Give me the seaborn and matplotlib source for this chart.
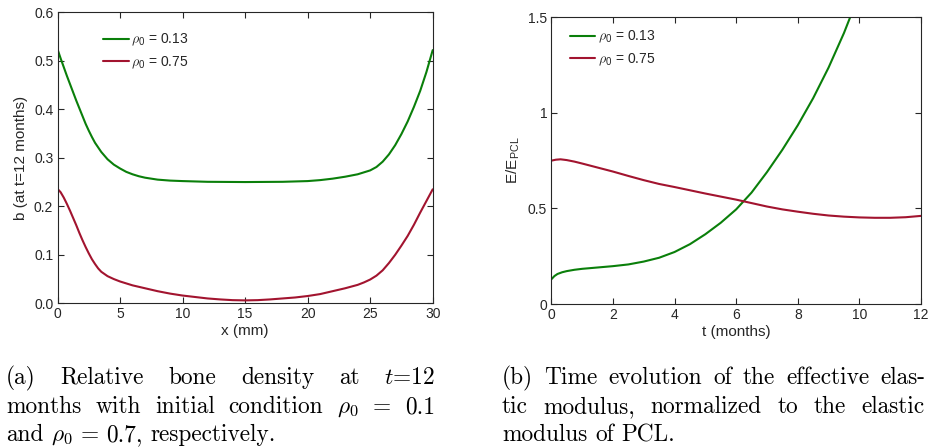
import numpy as np
import pandas as pd
import matplotlib
matplotlib.use("Agg")
import matplotlib.pyplot as plt
import seaborn as sns

# ---------------- data ----------------
x_mm = [0, 0.25, 0.5, 0.75, 1.0, 1.25, 1.5, 1.75, 2.0, 2.25, 2.5, 2.75, 3.0,
        3.5, 4.0, 4.5, 5.0, 5.5, 6.0, 6.5, 7.0, 8.0, 9.0, 10, 12, 15, 18, 20,
        21, 22, 23, 24, 25, 25.5, 26, 26.5, 27, 27.5, 28, 28.5, 29, 29.5, 30]
b_rho013 = [0.524, 0.505, 0.487, 0.469, 0.452, 0.435, 0.418, 0.402, 0.386,
            0.370, 0.356, 0.343, 0.331, 0.312, 0.297, 0.286, 0.278, 0.271,
            0.266, 0.262, 0.259, 0.255, 0.253, 0.252, 0.2505, 0.250, 0.2505,
            0.252, 0.254, 0.257, 0.261, 0.266, 0.274, 0.281, 0.292, 0.307,
            0.326, 0.349, 0.375, 0.405, 0.438, 0.477, 0.522]

x_mm2 = [0, 0.25, 0.5, 0.75, 1.0, 1.25, 1.5, 1.75, 2.0, 2.25, 2.5, 2.75, 3.0,
         3.25, 3.5, 4.0, 4.5, 5.0, 5.5, 6.0, 7.0, 8.0, 9.0, 10, 11, 12, 13,
         14, 15, 16, 17, 18, 19, 20, 21, 22, 23, 24, 24.5, 25, 25.5, 26,
         26.5, 27, 27.5, 28, 28.5, 29, 29.5, 30]
b_rho075 = [0.236, 0.229, 0.218, 0.205, 0.191, 0.176, 0.161, 0.145, 0.130,
            0.116, 0.103, 0.091, 0.081, 0.072, 0.065, 0.056, 0.050, 0.045,
            0.041, 0.037, 0.031, 0.025, 0.020, 0.016, 0.013, 0.010, 0.008,
            0.0065, 0.006, 0.0065, 0.008, 0.010, 0.012, 0.015, 0.019, 0.025,
            0.031, 0.038, 0.043, 0.049, 0.057, 0.068, 0.083, 0.100, 0.119,
            0.139, 0.162, 0.187, 0.211, 0.235]

t_months = [0, 0.1, 0.2, 0.35, 0.5, 0.75, 1.0, 1.5, 2.0, 2.5, 3.0, 3.5, 4.0,
            4.5, 5.0, 5.5, 6.0, 6.5, 7.0, 7.5, 8.0, 8.5, 9.0, 9.5, 9.7]
E_rho013 = [0.129, 0.146, 0.157, 0.166, 0.172, 0.179, 0.184, 0.191, 0.198,
            0.207, 0.222, 0.242, 0.272, 0.313, 0.365, 0.425, 0.495, 0.583,
            0.690, 0.807, 0.935, 1.077, 1.237, 1.418, 1.500]
t_months2 = [0, 0.15, 0.3, 0.5, 0.75, 1.0, 1.5, 2.0, 2.5, 3.0, 3.5, 4.0, 4.5,
             5.0, 5.5, 6.0, 6.5, 7.0, 7.5, 8.0, 8.5, 9.0, 9.5, 10.0, 10.5,
             11.0, 11.5, 12.0]
E_rho075 = [0.750, 0.755, 0.757, 0.753, 0.745, 0.735, 0.714, 0.693, 0.670,
            0.648, 0.628, 0.612, 0.595, 0.578, 0.562, 0.546, 0.528, 0.510,
            0.495, 0.483, 0.472, 0.463, 0.457, 0.453, 0.451, 0.451, 0.454,
            0.461]

labels = [r"$\rho_{\mathregular{0}}$ = 0.13", r"$\rho_{\mathregular{0}}$ = 0.75"]
xticks_a = [0, 5, 10, 15, 20, 25, 30]
yticks_a = [0, 0.1, 0.2, 0.3, 0.4, 0.5, 0.6]
xticks_b = [0, 2, 4, 6, 8, 10, 12]
yticks_b = [0, 0.5, 1, 1.5]
ytick_labels_b = ["0", "0.5", "1", "1.5"]

GREEN = "#0A7F0A"
RED = "#A2142F"
INK = "#262626"

# ---------------- style ----------------
sns.set_theme(style="ticks")
plt.rcParams["font.family"] = ["Liberation Sans", "DejaVu Sans"]
plt.rcParams["mathtext.fontset"] = "cm"
plt.rcParams.update({
    "axes.edgecolor": INK, "axes.linewidth": 0.8,
    "xtick.color": INK, "ytick.color": INK,
    "xtick.labelcolor": INK, "ytick.labelcolor": INK,
    "xtick.direction": "in", "ytick.direction": "in",
    "xtick.major.size": 4, "ytick.major.size": 4,
    "xtick.major.width": 0.8, "ytick.major.width": 0.8,
    "xtick.labelsize": 10, "ytick.labelsize": 10,
    "axes.labelsize": 11, "axes.labelcolor": INK,
})

W, H = 930, 447
fig = plt.figure(figsize=(W / 100, H / 100), dpi=100)

def px_axes(x0, x1, top, bottom):
    return fig.add_axes([x0 / W, 1 - bottom / H, (x1 - x0) / W, (bottom - top) / H])

ax1 = px_axes(57.5, 432.7, 12.3, 303.3)
ax2 = px_axes(551.3, 921.0, 17.3, 304.0)

dfa = pd.DataFrame({"x": x_mm + x_mm2, "b": b_rho013 + b_rho075,
                    "series": [labels[0]] * len(x_mm) + [labels[1]] * len(x_mm2)})
sns.lineplot(data=dfa, x="x", y="b", hue="series", palette=[GREEN, RED],
             linewidth=1.5, ax=ax1, sort=False)

dfb = pd.DataFrame({"t": t_months + t_months2, "E": E_rho013 + E_rho075,
                    "series": [labels[0]] * len(t_months) + [labels[1]] * len(t_months2)})
sns.lineplot(data=dfb, x="t", y="E", hue="series", palette=[GREEN, RED],
             linewidth=1.5, ax=ax2, sort=False)

ax1.set_xlim(0, 30); ax1.set_ylim(0, 0.6)
ax1.set_xticks(xticks_a); ax1.set_yticks(yticks_a)
ax1.set_xlabel("x (mm)", labelpad=2)
ax1.set_ylabel("b (at t=12 months)", labelpad=4)

ax2.set_xlim(0, 12); ax2.set_ylim(0, 1.5)
ax2.set_xticks(xticks_b); ax2.set_yticks(yticks_b)
ax2.set_yticklabels(ytick_labels_b)
ax2.set_xlabel("t (months)", labelpad=2)
ax2.set_ylabel(r"E/E$_{\mathregular{PCL}}$", labelpad=4)

for ax in (ax1, ax2):
    ax.tick_params(top=True, right=True, pad=3)
    for s in ax.spines.values():
        s.set_visible(True)

leg_kw = dict(frameon=False, fontsize=10, handlelength=1.85, handletextpad=0.2,
              labelspacing=0.45, borderpad=0, borderaxespad=0, loc="upper left", title=None)
ax1.legend(bbox_to_anchor=((103 - 57.5) / 375.2, (303.3 - 32) / 291.0), **leg_kw)
ax2.legend(bbox_to_anchor=((569.7 - 551.3) / 369.7, (304 - 29) / 286.7), **leg_kw)

# ---------------- captions (justified like LaTeX) ----------------
CAP = 16.8
renderer = fig.canvas.get_renderer()

def line(words, x0, x1, base, justify=True):
    ts = [fig.text(0, 1 - base / H, w, fontsize=CAP, family="cmr10",
                   va="baseline", ha="left", color="black") for w in words]
    ws = [t.get_window_extent(renderer).width for t in ts]
    if justify and len(words) > 1:
        gap = (x1 - x0 - sum(ws)) / (len(words) - 1)
    else:
        gap = CAP * 100 / 72 * 0.333
    x = x0
    for t, w in zip(ts, ws):
        t.set_x(x / W)
        x += w + gap

line(["(a)", "Relative", "bone", "density", "at", "$t$=12"], 6, 435, 384)
line(["months", "with", "initial", "condition", r"$\rho_0$", "=", "0.1"], 6, 435, 413)
line(["and", r"$\rho_0$", "=", "0.7,", "respectively."], 6, 435, 441, justify=False)

line(["(b)", "Time", "evolution", "of", "the", "effective", "elas-"], 502, 925, 384)
line(["tic", "modulus,", "normalized", "to", "the", "elastic"], 502, 924, 413)
line(["modulus", "of", "PCL."], 502, 924, 441, justify=False)

fig.savefig("out.png", dpi=100)
